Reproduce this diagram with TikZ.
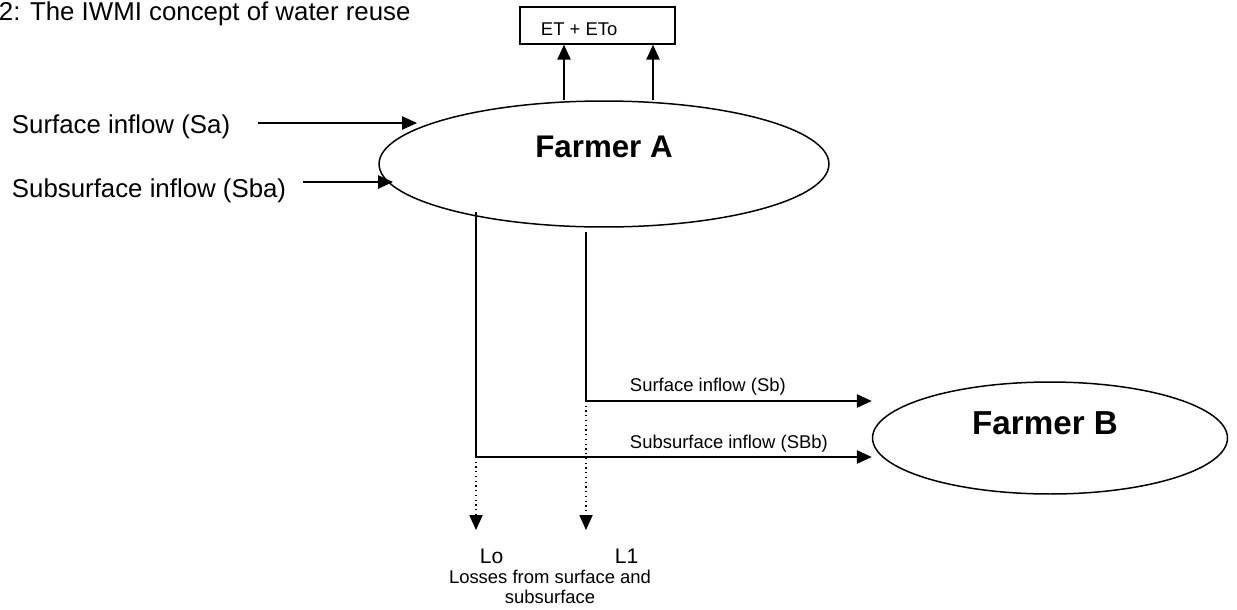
\documentclass[tikz,border=0pt]{standalone}
\usepackage{fontspec}
\setmainfont{Liberation Sans}
\usetikzlibrary{arrows.meta,shapes.geometric}
\begin{document}
\begin{tikzpicture}[x=.02cm, y=-.02cm, >={Triangle[length=8.5pt,width=7.5pt]}, line width=1.1pt,
    big/.style={font=\fontsize{14.7}{17}\selectfont, inner sep=0pt},
    small/.style={font=\fontsize{10.5}{12.5}\selectfont, inner sep=0pt},
    farmer/.style={draw, ellipse, line width=.85pt, inner sep=0pt},
    flow/.style={->},
    loss/.style={->, dotted, line width=.7pt}]
    \useasboundingbox (0,0) rectangle (1237,609);
    \node[big, anchor=base west] (title) at (-2,20) {2: The IWMI concept of water reuse};
    \node[draw, line width=.85pt, minimum width=3.1cm, minimum height=.74cm] (et) at (597.5,25.5) {};
    \node[small, anchor=base west] (ettxt) at (540,35) {ET + ETo};
    \node[farmer, minimum width=9cm, minimum height=2.52cm] (farmerA) at (604,164) {};
    \node[font=\fontsize{17.8}{20}\selectfont\bfseries, inner sep=0pt, anchor=base] (farmerAtxt) at (604,157) {Farmer A};
    \node[farmer, minimum width=7.1cm, minimum height=2.24cm] (farmerB) at (1050,438) {};
    \node[font=\fontsize{18.9}{21}\selectfont\bfseries, inner sep=0pt, anchor=base] (farmerBtxt) at (1045,434) {Farmer B};
    \node[big, anchor=base west] (sa) at (11,133) {Surface inflow (Sa)};
    \node[big, anchor=base west] (sba) at (11,197) {Subsurface inflow (Sba)};
    \node[small, anchor=base west] (sb) at (629,391) {Surface inflow (Sb)};
    \node[small, anchor=base west] (sbb) at (629,448) {Subsurface inflow (SBb)};
    \node[small, font=\fontsize{12}{14}\selectfont, anchor=base west] (lo) at (479,563) {Lo};
    \node[small, font=\fontsize{12}{14}\selectfont, anchor=base west] (l1) at (614,563) {L1};
    \node[small, anchor=base] (losses) at (550,583) {Losses from surface and};
    \node[small, anchor=base] (lossesb) at (550,603) {subsurface};
    \coordinate (saStart) at (258,123);
    \coordinate (saTip) at (417,123);
    \coordinate (sbaStart) at (303,182);
    \coordinate (sbaTip) at (393,182);
    \coordinate (loTop) at (476,212);
    \coordinate (loTurn) at (476,457);
    \coordinate (l1Top) at (586,232);
    \coordinate (l1Turn) at (586,401);
    \coordinate (lossEnd) at (0,530);
    \draw[flow] (saStart) -- (saTip);
    \draw[flow] (sbaStart) -- (sbaTip);
    \foreach \x in {564,653}
    \draw[flow] (farmerA.north -| \x,0) -- (et.south -| \x,0);
    \draw[flow] (l1Top) -- (l1Turn) -- (l1Turn -| farmerB.west);
    \draw[flow] (loTop) -- (loTurn) -- (loTurn -| farmerB.west);
    \draw[loss] (loTurn) -- (loTurn |- lossEnd);
    \draw[loss] (l1Turn) -- (l1Turn |- lossEnd);
\end{tikzpicture}
\end{document}
